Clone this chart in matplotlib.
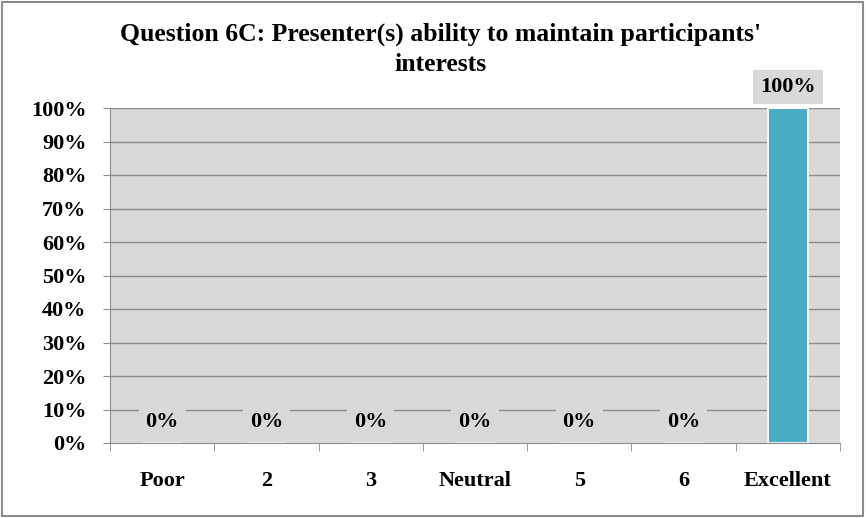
import matplotlib.pyplot as plt
from matplotlib.patches import Rectangle
import numpy as np

categories = ['Poor', '2', '3', 'Neutral', '5', '6', 'Excellent']
values = [0, 0, 0, 0, 0, 0, 100]
yticks = [0, 10, 20, 30, 40, 50, 60, 70, 80, 90, 100]

plt.rcParams['font.family'] = ['Liberation Serif', 'DejaVu Serif']
plt.rcParams['font.weight'] = 'bold'

fig = plt.figure(figsize=(8.66, 5.18), dpi=100)
ax = fig.add_axes([110/866, 1 - 443/518, 730/866, 335/518])

x = np.arange(len(categories))
ax.set_facecolor('#D9D9D9')
for j in yticks[1:]:
    ax.axhline(j, color='#8C8C8C', lw=1, zorder=1)

bars = ax.bar(x, values, width=0.38, color='#4BACC6', edgecolor='#F2F2F2', lw=1.5, zorder=2)
labels = ax.bar_label(bars, labels=['%d%%' % v for v in values], padding=8,
                      fontsize=16, fontweight='bold', zorder=3)
for t in labels:
    t.set_bbox(dict(facecolor='#D9D9D9', edgecolor='none', pad=5))

ax.set_xlim(-0.5, len(categories) - 0.5)
ax.set_ylim(0, 100)
ax.set_yticks(yticks)
ax.set_yticklabels(['%d%%' % v for v in yticks], fontsize=16, fontweight='bold')
ax.set_xticks(x)
ax.set_xticklabels(categories, fontsize=16, fontweight='bold')
ax.set_xticks(np.arange(-0.5, len(categories)), minor=True)
ax.tick_params(axis='x', which='major', length=0, pad=20)
ax.tick_params(axis='x', which='minor', length=6, color='#8C8C8C', direction='out')
ax.tick_params(axis='y', length=5, color='#8C8C8C', direction='out', pad=12)

for s in ['top', 'right']:
    ax.spines[s].set_visible(False)
for s in ['left', 'bottom']:
    ax.spines[s].set_color('#8C8C8C')

fig.text(441/866, 1 - 41/518, "Question 6C: Presenter(s) ability to maintain participants'",
         ha='center', va='baseline', fontsize=18.5, fontweight='bold')
fig.text(441/866, 1 - 71/518, "interests",
         ha='center', va='baseline', fontsize=18.5, fontweight='bold')

fig.patches.append(Rectangle((0.002, 0.003), 0.994, 0.993, transform=fig.transFigure,
                             fill=False, edgecolor='#8C8C8C', lw=1.5))

fig.savefig('out.png', dpi=100)
